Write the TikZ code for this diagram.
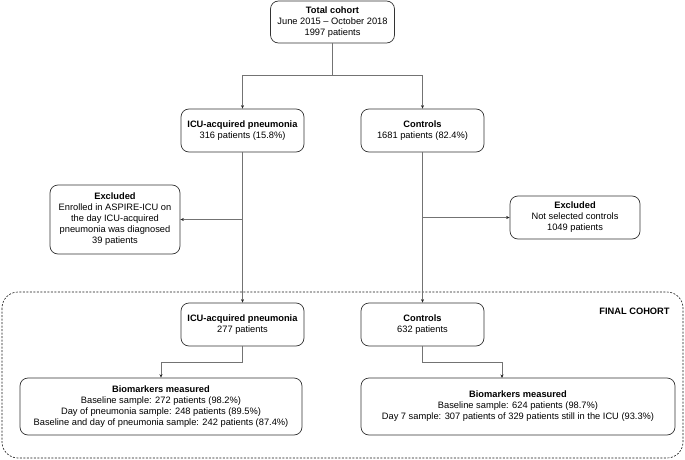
\documentclass[tikz,border=0pt]{standalone}
\usepackage{fontspec}
\setmainfont{Liberation Sans}
\usetikzlibrary{positioning,arrows.meta}

\begin{document}
\begin{tikzpicture}[x=1pt, y=-1pt,
    box/.style={draw=black!80, line width=0.7pt, rectangle, rounded corners=8pt, align=center, inner sep=0pt, font=\fontsize{9.3}{11}\selectfont},
    link/.style={draw=black!55, line width=0.6pt},
    arrow/.style={link, -{Stealth[length=3.5pt, width=3pt, black!85]}},
    frame/.style={draw=black!90, dash pattern=on 2pt off 1.5pt, line width=0.6pt, rounded corners=16pt}
]
\useasboundingbox (0,0) rectangle (685,460);

% Final cohort frame
\draw[frame] (2,292) rectangle (683,458);
\node[font=\fontsize{9.3}{11}\selectfont\bfseries] (final) at (634.5,311) {FINAL COHORT};

% Boxes
\node[box, minimum width=124pt, minimum height=42pt] (total) at (332.5,22) {\textbf{Total cohort}\\June 2015 -- October 2018\\1997 patients};
\node[box, minimum width=123pt, minimum height=43pt] (icu) at (242.5,130.5) {\textbf{ICU-acquired pneumonia}\\316 patients (15.8\%)};
\node[box, minimum width=123pt, minimum height=43pt] (ctrl) at (422.5,130.5) {\textbf{Controls}\\1681 patients (82.4\%)};
\node[box, minimum width=130pt, minimum height=69pt] (exclA) at (115,219.5) {\textbf{Excluded}\\Enrolled in ASPIRE-ICU on\\the day ICU-acquired\\pneumonia was diagnosed\\39 patients};
\node[box, minimum width=130pt, minimum height=43pt] (exclB) at (575,217.5) {\textbf{Excluded}\\Not selected controls\\1049 patients};
\node[box, minimum width=123pt, minimum height=43pt] (icu2) at (242.5,324.5) {\textbf{ICU-acquired pneumonia}\\277 patients};
\node[box, minimum width=123pt, minimum height=43pt] (ctrl2) at (422.5,324.5) {\textbf{Controls}\\632 patients};
\node[box, minimum width=282pt, minimum height=57pt] (bioA) at (161,406.5) {\textbf{Biomarkers measured}\\Baseline sample: 272 patients (98.2\%)\\Day of pneumonia sample: 248 patients (89.5\%)\\Baseline and day of pneumonia sample: 242 patients (87.4\%)};
\node[box, minimum width=314pt, minimum height=57pt] (bioB) at (518,406.5) {\textbf{Biomarkers measured}\\Baseline sample: 624 patients (98.7\%)\\Day 7 sample: 307 patients of 329 patients still in the ICU (93.3\%)};

% Bends
\coordinate (split) at (332.5,75);
\coordinate (bendA) at (242.5,362);
\coordinate (bendB) at (422.5,362);
\coordinate (inB) at (502,378);

% Arrows
\draw[link] (total) -- (split);
\draw[arrow] (split) -| (icu);
\draw[arrow] (split) -| (ctrl);
\draw[arrow] (icu) -- (icu2);
\draw[arrow] (ctrl) -- (ctrl2);
\draw[arrow] (icu |- exclA) -- (exclA);
\draw[arrow] (ctrl |- exclB) -- (exclB);
\draw[arrow] (icu2) -- (bendA) -| (bioA);
\draw[arrow] (ctrl2) -- (bendB) -| (inB);

\end{tikzpicture}
\end{document}
